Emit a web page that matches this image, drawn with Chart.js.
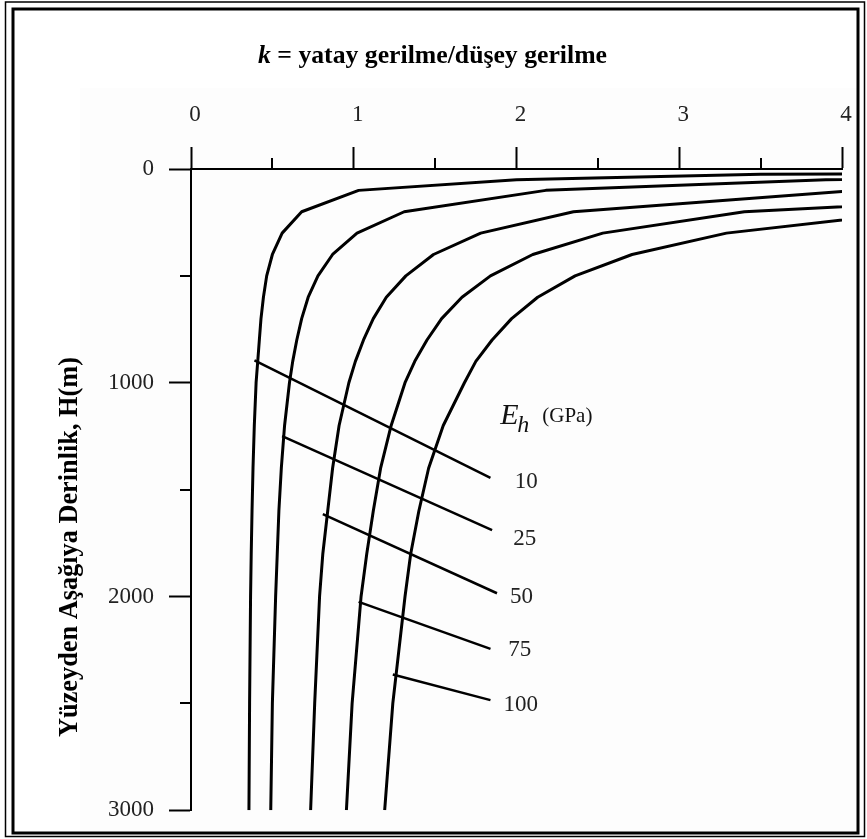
<!DOCTYPE html>
<html>
<head>
<meta charset="utf-8">
<title>k - derinlik</title>
<script src="https://cdn.jsdelivr.net/npm/chart.js@4.4.1/dist/chart.umd.min.js"></script>
<style>
  html, body { margin: 0; padding: 0; background: #fff; }
  canvas { display: block; }
</style>
</head>
<body>
<canvas id="chart" width="867" height="839"></canvas>
<script>
// depth below surface (m) where the curves were read
var depths = [10, 25, 50, 100, 200, 300, 400, 500, 600, 700, 800, 900, 1000, 1200, 1400, 1600, 1800, 2000, 2500, 3000];

// k (null = not on the chart)
var k10  = [7.3, 3.5, 2.0, 1.03, 0.68, 0.56, 0.5, 0.465, 0.445, 0.43, 0.42, 0.41, 0.4, 0.389, 0.381, 0.375, 0.37, 0.366, 0.36, 0.356];
var k25  = [null, 7.4, 3.9, 2.18, 1.31, 1.02, 0.87, 0.78, 0.72, 0.68, 0.65, 0.625, 0.605, 0.575, 0.555, 0.54, 0.53, 0.52, 0.5, 0.49];
var k50  = [null, null, 7.6, 4.1, 2.35, 1.78, 1.49, 1.32, 1.2, 1.12, 1.06, 1.01, 0.97, 0.91, 0.87, 0.84, 0.81, 0.79, 0.76, 0.735];
var k75  = [null, null, null, 6.0, 3.4, 2.53, 2.1, 1.84, 1.665, 1.54, 1.45, 1.375, 1.315, 1.23, 1.165, 1.12, 1.08, 1.045, 0.99, 0.955];
var k100 = [null, null, null, 7.95, 4.45, 3.29, 2.71, 2.36, 2.13, 1.97, 1.85, 1.75, 1.68, 1.55, 1.46, 1.4, 1.35, 1.315, 1.24, 1.19];

// E_h labels and their leader lines
var moduli = ['10', '25', '50', '75', '100'];
var leadStartK = [0.39, 0.56, 0.81, 1.03, 1.24];
var leadStartH = [895, 1250, 1615, 2025, 2365];
var leadEndK = [1.84, 1.85, 1.88, 1.84, 1.84];
var leadEndH = [1445, 1690, 1985, 2245, 2485];
var labelK = [1.99, 1.98, 1.96, 1.95, 1.92];
var labelH = [1493, 1761, 2030, 2279, 2538];
var unitK = 1.9, unitH = 1193;

// tick labels
var kLabels = [0, 1, 2, 3, 4];
var depthLabels = [0, 1000, 2000, 3000];

var SERIF = '"Liberation Serif", "Times New Roman", serif';
Chart.defaults.font.family = SERIF;

function toPoints(vals) {
    var pts = [];
    for (var i = 0; i < depths.length; i++) {
        if (vals[i] != null) pts.push({x: vals[i], y: depths[i]});
    }
    return pts;
}

var datasets = [k10, k25, k50, k75, k100].map(function (vals) {
    return {data: toPoints(vals), showLine: true, borderColor: '#000', borderWidth: 3,
        pointRadius: 0, tension: 0, borderJoinStyle: 'round'};
});
for (var i = 0; i < moduli.length; i++) {
    datasets.push({
        data: [{x: leadStartK[i], y: leadStartH[i]}, {x: leadEndK[i], y: leadEndH[i]}],
        showLine: true, borderColor: '#000', borderWidth: 2.5, pointRadius: 0
    });
}

// white page, faint scan tone and the double frame
var frame = {
    id: 'frame',
    beforeDraw: function (chart) {
        var ctx = chart.ctx;
        ctx.save();
        ctx.fillStyle = '#fff';
        ctx.fillRect(0, 0, chart.width, chart.height);
        ctx.fillStyle = '#fdfdfd';
        ctx.fillRect(80, 88, 778, 743);
        ctx.strokeStyle = '#000';
        ctx.lineWidth = 1.5;
        ctx.strokeRect(5.5, 2, 859, 834.5);
        ctx.lineWidth = 3;
        ctx.strokeRect(13, 9, 845, 824);
        ctx.restore();
    }
};

var extras = {
    id: 'extras',
    afterDraw: function (chart) {
        var ctx = chart.ctx, xs = chart.scales.x, ys = chart.scales.y;
        ctx.save();
        ctx.strokeStyle = '#000';
        ctx.lineWidth = 2;
        // minor ticks
        xs.ticks.forEach(function (t) {
            if (kLabels.indexOf(t.value) < 0) {
                var px = Math.round(xs.getPixelForValue(t.value));
                ctx.beginPath(); ctx.moveTo(px, xs.bottom); ctx.lineTo(px, xs.bottom - 11); ctx.stroke();
            }
        });
        ys.ticks.forEach(function (t) {
            if (depthLabels.indexOf(t.value) < 0) {
                var py = Math.round(ys.getPixelForValue(t.value));
                ctx.beginPath(); ctx.moveTo(ys.right, py); ctx.lineTo(ys.right - 11, py); ctx.stroke();
            }
        });

        ctx.fillStyle = '#000';
        // top title, k in italic
        ctx.font = 'italic bold 25px ' + SERIF;
        var wk = ctx.measureText('k').width;
        var rest = ' = yatay gerilme/düşey gerilme';
        ctx.font = 'bold 25px ' + SERIF;
        var wr = ctx.measureText(rest).width;
        var s = 349 / (wk + wr);
        ctx.save();
        ctx.translate(432.5 - 349 / 2, 63);
        ctx.scale(s, 1);
        ctx.textBaseline = 'alphabetic';
        ctx.textAlign = 'left';
        ctx.font = 'italic bold 25px ' + SERIF;
        ctx.fillText('k', 0, 0);
        ctx.font = 'bold 25px ' + SERIF;
        ctx.fillText(rest, wk, 0);
        ctx.restore();

        // y axis title
        var yt = 'Yüzeyden Aşağıya Derinlik, H(m)';
        ctx.save();
        ctx.translate(77, 547);
        ctx.rotate(-Math.PI / 2);
        ctx.font = 'bold 28px ' + SERIF;
        ctx.scale(380 / ctx.measureText(yt).width, 1);
        ctx.textAlign = 'center';
        ctx.textBaseline = 'alphabetic';
        ctx.fillText(yt, 0, 0);
        ctx.restore();

        // E_h (GPa)
        var ux = xs.getPixelForValue(unitK), uy = ys.getPixelForValue(unitH);
        ctx.fillStyle = '#111';
        ctx.textAlign = 'left';
        ctx.textBaseline = 'alphabetic';
        ctx.font = 'italic 30px ' + SERIF;
        ctx.fillText('E', ux, uy);
        ctx.font = 'italic 24px ' + SERIF;
        ctx.fillText('h', ux + 17, uy + 8);
        ctx.font = '21px ' + SERIF;
        ctx.fillText('(GPa)', ux + 42, uy - 2);

        // curve labels
        ctx.fillStyle = '#222';
        ctx.font = '23px ' + SERIF;
        for (var i = 0; i < moduli.length; i++) {
            ctx.fillText(moduli[i], xs.getPixelForValue(labelK[i]), ys.getPixelForValue(labelH[i]));
        }
        ctx.restore();
    }
};

new Chart(document.getElementById('chart'), {
    type: 'scatter',
    data: {datasets: datasets},
    options: {
        responsive: false,
        devicePixelRatio: 1,
        animation: false,
        layout: {padding: {left: 0, top: 0, right: 25, bottom: 21}},
        plugins: {legend: {display: false}, tooltip: {enabled: false}, title: {display: false}},
        scales: {
            x: {
                type: 'linear', position: 'top', min: 0, max: 4,
                afterFit: function (scale) { scale.height = 169; },
                ticks: {
                    stepSize: 0.5, padding: 18, labelOffset: 4, color: '#222',
                    font: {size: 23, family: SERIF}, maxRotation: 0, autoSkip: false,
                    callback: function (v) { return kLabels.indexOf(v) >= 0 ? String(v) : ''; }
                },
                grid: {
                    drawOnChartArea: false, tickLength: 22, tickWidth: 2,
                    tickColor: function (c) { return c.tick && kLabels.indexOf(c.tick.value) >= 0 ? '#000' : 'rgba(0,0,0,0)'; }
                },
                border: {display: true, color: '#000', width: 2}
            },
            y: {
                type: 'linear', reverse: true, min: 0, max: 3000,
                afterFit: function (scale) { scale.width = 191; },
                ticks: {
                    stepSize: 500, padding: 15, color: '#222',
                    font: {size: 23, family: SERIF}, autoSkip: false,
                    callback: function (v) { return depthLabels.indexOf(v) >= 0 ? String(v) : ''; }
                },
                grid: {
                    drawOnChartArea: false, tickLength: 22, tickWidth: 2,
                    tickColor: function (c) { return c.tick && depthLabels.indexOf(c.tick.value) >= 0 ? '#000' : 'rgba(0,0,0,0)'; }
                },
                border: {display: true, color: '#000', width: 2}
            }
        }
    },
    plugins: [frame, extras]
});
</script>
</body>
</html>
